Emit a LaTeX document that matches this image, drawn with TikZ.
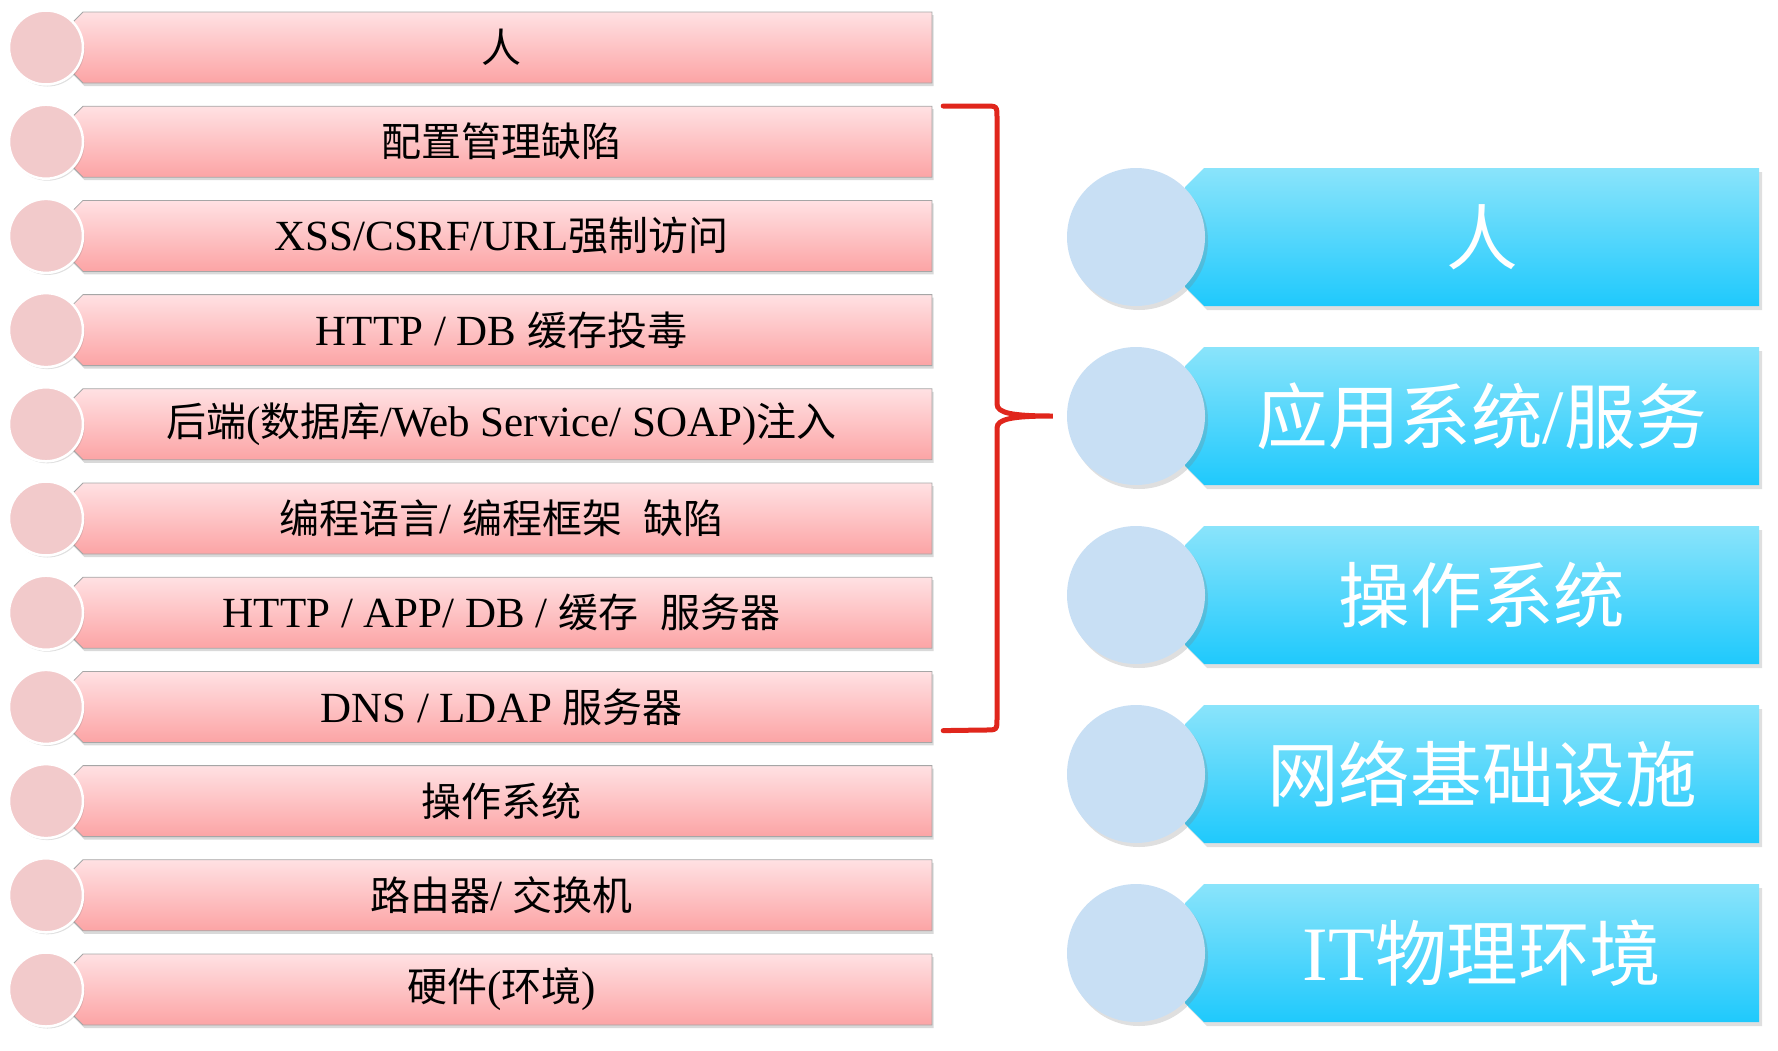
\documentclass[tikz,border=0pt]{standalone}
\usepackage{fontspec}
\setmainfont{Liberation Serif}
\newfontfamily\cjk[Scale=0.93]{Noto Sans CJK SC}
\usetikzlibrary{shadows}
\newcommand{\zh}[1]{{\cjk #1}}
\definecolor{pinktop}{HTML}{FFE1E3}
\definecolor{pinkbot}{HTML}{FCA4A5}
\definecolor{pinkdot}{HTML}{F2CACB}
\definecolor{bluetop}{HTML}{8AE4FB}
\definecolor{bluebot}{HTML}{1FC9FC}
\definecolor{bluedot}{HTML}{C8DFF4}
\definecolor{bracered}{HTML}{E0261C}
\tikzset{
  pinkbody/.style={top color=pinktop, bottom color=pinkbot, draw=black!35, line width=0.8pt,
    drop shadow={shadow xshift=1.5pt, shadow yshift=-3pt, opacity=.3}},
  pinklabel/.style={minimum width=861pt, minimum height=71pt, inner sep=0pt,
    font=\fontsize{43}{50}\selectfont},
  pinkball/.style={circle, minimum size=74pt, inner sep=0pt, fill=pinkdot, draw=white,
    line width=2.5pt, drop shadow={shadow xshift=1.5pt, shadow yshift=-2pt, opacity=.25}},
  bluebody/.style={top color=bluetop, bottom color=bluebot,
    drop shadow={shadow xshift=3pt, shadow yshift=-4pt, opacity=.25}},
  blueball/.style={circle, minimum size=138pt, inner sep=0pt, fill=bluedot,
    drop shadow={shadow xshift=3pt, shadow yshift=-4pt, opacity=.25}},
  bluelabel/.style={text=white, inner sep=0pt, font=\fontsize{77}{88}\selectfont},
  bracket/.style={draw=bracered, line width=5pt, line cap=round},
  % one pink row: chamfered bar, its text and its ball
  pinkrow/.pic={
    \path[pinkbody] (-420.5,-35.5) -- (428.5,-35.5) -- (428.5,35.5) -- (-420.5,35.5)
      -- (-432.5,23.5) -- (-432.5,-23.5) -- cycle;
    \node[pinklabel] (-bar) at (-2,0) {#1};
    \node[pinkball] (-dot) at (-457.5,0) {};
  },
  % one blue row: chamfered box, its ball and its text
  bluerow/.pic={
    \path[bluebody] (-268,-69) -- (287,-69) -- (287,69) -- (-268,69)
      -- (-287,50) -- (-287,-50) -- cycle;
    \node[blueball] (-ball) at (-336,0) {};
    \node[bluelabel] (-txt) at (10,0) {#1};
  }
}
\begin{document}
\begin{tikzpicture}[x=1pt,y=-1pt]
\useasboundingbox (0,0) rectangle (1778,1050);
%%%%%%%%%%%%%%%% left column
\pic (row1) at (503.5,47.5) {pinkrow={\zh{人}}};
\pic (row2) at (503.5,141.7) {pinkrow={\zh{配置管理缺陷}}};
\pic (row3) at (503.5,235.9) {pinkrow={XSS/CSRF/URL\zh{强制访问}}};
\pic (row4) at (503.5,330.1) {pinkrow={HTTP / DB \zh{缓存投毒}}};
\pic (row5) at (503.5,424.3) {pinkrow={\zh{后端}(\zh{数据库}/Web Service/ SOAP)\zh{注入}}};
\pic (row6) at (503.5,518.5) {pinkrow={\zh{编程语言}/ \zh{编程框架}\hspace{0.5em}\zh{缺陷}}};
\pic (row7) at (503.5,612.7) {pinkrow={HTTP / APP/ DB / \zh{缓存}\hspace{0.5em}\zh{服务器}}};
\pic (row8) at (503.5,706.9) {pinkrow={DNS / LDAP \zh{服务器}}};
\pic (row9) at (503.5,801.1) {pinkrow={\zh{操作系统}}};
\pic (row10) at (503.5,895.3) {pinkrow={\zh{路由器}/ \zh{交换机}}};
\pic (row11) at (503.5,989.5) {pinkrow={\zh{硬件}(\zh{环境})}};
%%%%%%%%%%%%%%%% right column
\pic (layer1) at (1472,237) {bluerow={\zh{人}}};
\pic (layer2) at (1472,416) {bluerow={\zh{应用系统}/\zh{服务}}};
\pic (layer3) at (1472,595) {bluerow={\zh{操作系统}}};
\pic (layer4) at (1472,774) {bluerow={\zh{网络基础设施}}};
\pic (layer5) at (1472,953) {bluerow={IT\zh{物理环境}}};
%%%%%%%%%%%%%%%% brace
\coordinate (bt) at ([xshift=11pt]row2-bar.north east);
\coordinate (bb) at ([xshift=11pt,yshift=12pt]row8-bar.south east);
\coordinate (bm) at ([xshift=-14pt]layer2-ball.west);
\draw[bracket] (bt) -- (985,106) .. controls (997,106) .. (997,118) -- (997,404)
  .. controls (997,413) and (1012,416) .. (bm)
  .. controls (1012,416) and (997,419) .. (997,428) -- (997,718)
  .. controls (997,730) .. (985,730) -- (bb);
\end{tikzpicture}
\end{document}
